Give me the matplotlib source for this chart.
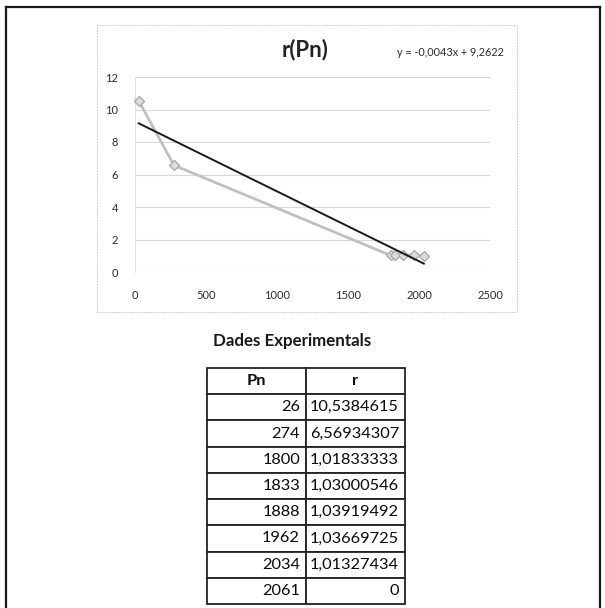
import matplotlib
matplotlib.use("Agg")
import matplotlib.pyplot as plt
from matplotlib.lines import Line2D
from matplotlib.patches import Rectangle
import numpy as np

# data (Dades Experimentals)
pn = [26, 274, 1800, 1833, 1888, 1962, 2034, 2061]
r = [10.5384615, 6.56934307, 1.01833333, 1.03000546, 1.03919492, 1.03669725, 1.01327434, 0]
n_plot = 7  # the chart only shows the first 7 points
slope = -0.0043
intercept = 9.2622
y_ticks = [0, 2, 4, 6, 8, 10, 12]
x_ticks = [0, 500, 1000, 1500, 2000, 2500]

W, H = 605, 608
plt.rcParams['font.family'] = ['Lato', 'DejaVu Sans']

fig = plt.figure(figsize=(W / 100, H / 100), dpi=100)


def box(x0, y0, x1, y1):
    # pixel box (top-left origin) -> figure fraction
    return [x0 / W, 1 - y1 / H, (x1 - x0) / W, (y1 - y0) / H]


# outer page border
for xs, ys in [([5.5, 5.5], [H + 5, 7]), ([5.5, 600], [7, 7]), ([600, 600], [7, H + 5])]:
    fig.add_artist(Line2D([x / W for x in xs], [1 - y / H for y in ys],
                          color='#1a1a1a', lw=1.6))

# chart frame
fig.add_artist(Rectangle((97 / W, 1 - 312 / H), 420 / W, 287 / H, fill=False,
                         edgecolor='#d0d0d0', lw=0.7, linestyle=(0, (2, 1))))

ax = fig.add_axes(box(135, 77, 490, 272))
ax.set_xlim(0, 2500)
ax.set_ylim(0, 12)
ax.set_yticks(y_ticks)
ax.set_xticks(x_ticks)
ax.grid(axis='y', color='#d8d8d8', lw=0.8)
ax.set_axisbelow(True)
for s in ['top', 'right', 'bottom']:
    ax.spines[s].set_visible(False)
ax.spines['left'].set_color('#e0e0e0')
ax.spines['left'].set_linewidth(0.7)
ax.tick_params(length=0, labelsize=8, colors='#2a2a2a', pad=13)
ax.tick_params(axis='y', pad=12)

ax.plot(pn[:n_plot], r[:n_plot], color='#c0c0c0', lw=2, marker='D', ms=5.5,
        markerfacecolor='#dcdcdc', markeredgecolor='#acacac', markeredgewidth=1,
        clip_on=False, zorder=3)
xt = np.array([pn[0], pn[n_plot - 1]])
ax.plot(xt, slope * xt + intercept, color='#1a1a1a', lw=1.4, zorder=4)

fig.text(305 / W, 1 - 50 / H, 'r(Pn)', ha='center', va='center',
         fontsize=16, fontweight='bold', color='#222222')
eq = 'y = {:.4f}x + {:.4f}'.format(slope, intercept).replace('.', ',')
fig.text(450 / W, 1 - 52 / H, eq, ha='center', va='center', fontsize=7.8,
         color='#2a2a2a')

# table
fig.text(292 / W, 1 - 341 / H, 'Dades Experimentals', ha='center', va='center',
         fontsize=12.2, fontweight='bold', color='#1a1a1a')

tax = fig.add_axes(box(207, 368, 405, 604))
tax.axis('off')
cells = [[str(p), ('%.10g' % v).replace('.', ',')] for p, v in zip(pn, r)]
tbl = tax.table(cellText=cells, colLabels=['Pn', 'r'], bbox=[0, 0, 1, 1],
                cellLoc='right', colLoc='center')
tbl.auto_set_font_size(False)
for (row, col), cell in tbl.get_celld().items():
    cell.set_edgecolor('#222222')
    cell.set_linewidth(1.3)
    cell.PAD = 0.06
    cell.get_text().set_fontsize(11.8)
    cell.get_text().set_color('#0a0a0a')
    if row == 0:
        cell.get_text().set_fontweight('bold')

fig.savefig('out.png', dpi=100, facecolor='white')
